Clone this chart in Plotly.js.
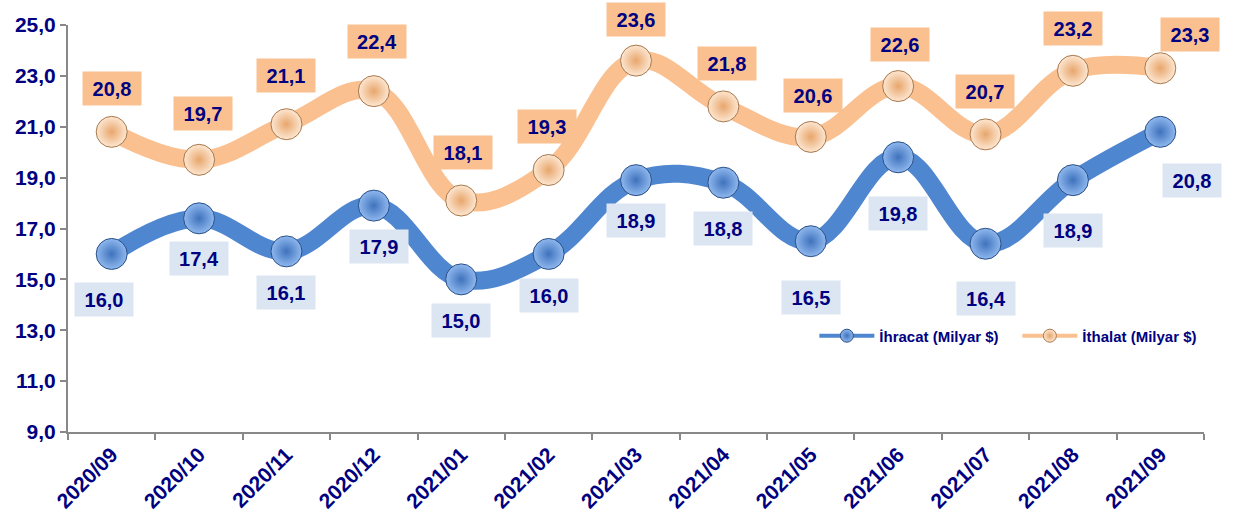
<!DOCTYPE html>
<html>
<head>
<meta charset="utf-8">
<script src="https://cdn.plot.ly/plotly-3.0.1.min.js"></script>
<style>html,body{margin:0;padding:0;background:#fff;}#chart{width:1234px;height:513px;}</style>
</head>
<body>
<div id="chart"></div>
<script>
const months = ["2020/09","2020/10","2020/11","2020/12","2021/01","2021/02","2021/03","2021/04","2021/05","2021/06","2021/07","2021/08","2021/09"];
const ihracat = [16.0,17.4,16.1,17.9,15.0,16.0,18.9,18.8,16.5,19.8,16.4,18.9,20.8];
const ithalat = [20.8,19.7,21.1,22.4,18.1,19.3,23.6,21.8,20.6,22.6,20.7,23.2,23.3];
const seriesNames = ["İhracat (Milyar $)", "İthalat (Milyar $)"];
const yTicks = [9,11,13,15,17,19,21,23,25];

// label pixel offsets (layout only)
const impOff = [[0,-43],[4,-46],[0,-49],[3,-50],[2,-48],[-2,-43],[0,-41],[4,-43],[2,-41],[2,-42],[-1,-43],[0,-42],[30,-34]];
const expOff = [[-8,46],[0,40],[0,41],[5,41],[0,41],[0,42],[0,40],[0,46],[0,56],[0,56],[0,55],[0,50],[32,49]];

const NAVY = "#000080";
const BLUE = "#4f86d0";
const ORANGE = "#fac090";
const fmt = v => v.toFixed(1).replace(".", ",");

const traces = [
  {x: months, y: ihracat, type: "scatter", mode: "lines+markers", showlegend: false,
   line: {color: BLUE, width: 18, shape: "spline", smoothing: 1.1},
   marker: {size: 31, color: "#8fb8ee", gradient: {type: "radial", color: "#3f72bd"}, line: {color: "#2a4f86", width: 1}}},
  {x: months, y: ithalat, type: "scatter", mode: "lines+markers", showlegend: false,
   line: {color: ORANGE, width: 18, shape: "spline", smoothing: 1.1},
   marker: {size: 31, color: "#fde7d2", gradient: {type: "radial", color: "#e8a66c"}, line: {color: "#a8784c", width: 1}}},
  {x: [null], y: [null], type: "scatter", mode: "lines+markers", name: seriesNames[0],
   line: {color: BLUE, width: 4}, marker: {size: 13, color: "#8fb8ee", gradient: {type: "radial", color: "#3f72bd"}, line: {color: "#2a4f86", width: 1}}},
  {x: [null], y: [null], type: "scatter", mode: "lines+markers", name: seriesNames[1],
   line: {color: ORANGE, width: 4}, marker: {size: 13, color: "#fde7d2", gradient: {type: "radial", color: "#e8a66c"}, line: {color: "#a8784c", width: 1}}}
];

const annotations = [];
months.forEach((m, i) => {
  annotations.push({x: m, y: ithalat[i], xref: "x", yref: "y", text: fmt(ithalat[i]), showarrow: false,
    xshift: impOff[i][0], yshift: -impOff[i][1], bgcolor: ORANGE, width: 56, height: 31, borderpad: 1,
    font: {family: "Liberation Sans, Arial", size: 20, color: NAVY, weight: "bold"}});
  annotations.push({x: m, y: ihracat[i], xref: "x", yref: "y", text: fmt(ihracat[i]), showarrow: false,
    xshift: expOff[i][0], yshift: -expOff[i][1], bgcolor: "#dce6f2", width: 56, height: 31, borderpad: 1,
    font: {family: "Liberation Sans, Arial", size: 20, color: NAVY, weight: "bold"}});
});

const layout = {
  width: 1234, height: 513,
  margin: {l: 68, r: 30, t: 25, b: 81},
  paper_bgcolor: "#fff", plot_bgcolor: "#fff",
  separators: ",.",
  font: {family: "Liberation Sans, Arial", color: NAVY},
  xaxis: {type: "category", range: [-0.5, 12.5], tickson: "boundaries", ticks: "outside", ticklen: 6, tickwidth: 2,
    tickcolor: "#888", showline: true, linecolor: "#888", linewidth: 2, showgrid: false, zeroline: false,
    tickangle: -45, tickfont: {size: 21, color: NAVY, weight: "bold"}},
  yaxis: {range: [9, 25], tickvals: yTicks, tickformat: ".1f", ticks: "outside", ticklen: 6, tickwidth: 2,
    tickcolor: "#888", showline: true, linecolor: "#888", linewidth: 2, showgrid: false, zeroline: false,
    tickfont: {size: 21, color: NAVY, weight: "bold"}},
  legend: {orientation: "h", x: 0.657, y: 0.236, xanchor: "left", yanchor: "middle", bgcolor: "rgba(0,0,0,0)",
    itemwidth: 55, entrywidth: 133, font: {size: 15, color: NAVY, weight: "bold"}},
  annotations: annotations,
  showlegend: true
};

Plotly.newPlot("chart", traces, layout, {displayModeBar: false, staticPlot: true});
</script>
</body>
</html>
